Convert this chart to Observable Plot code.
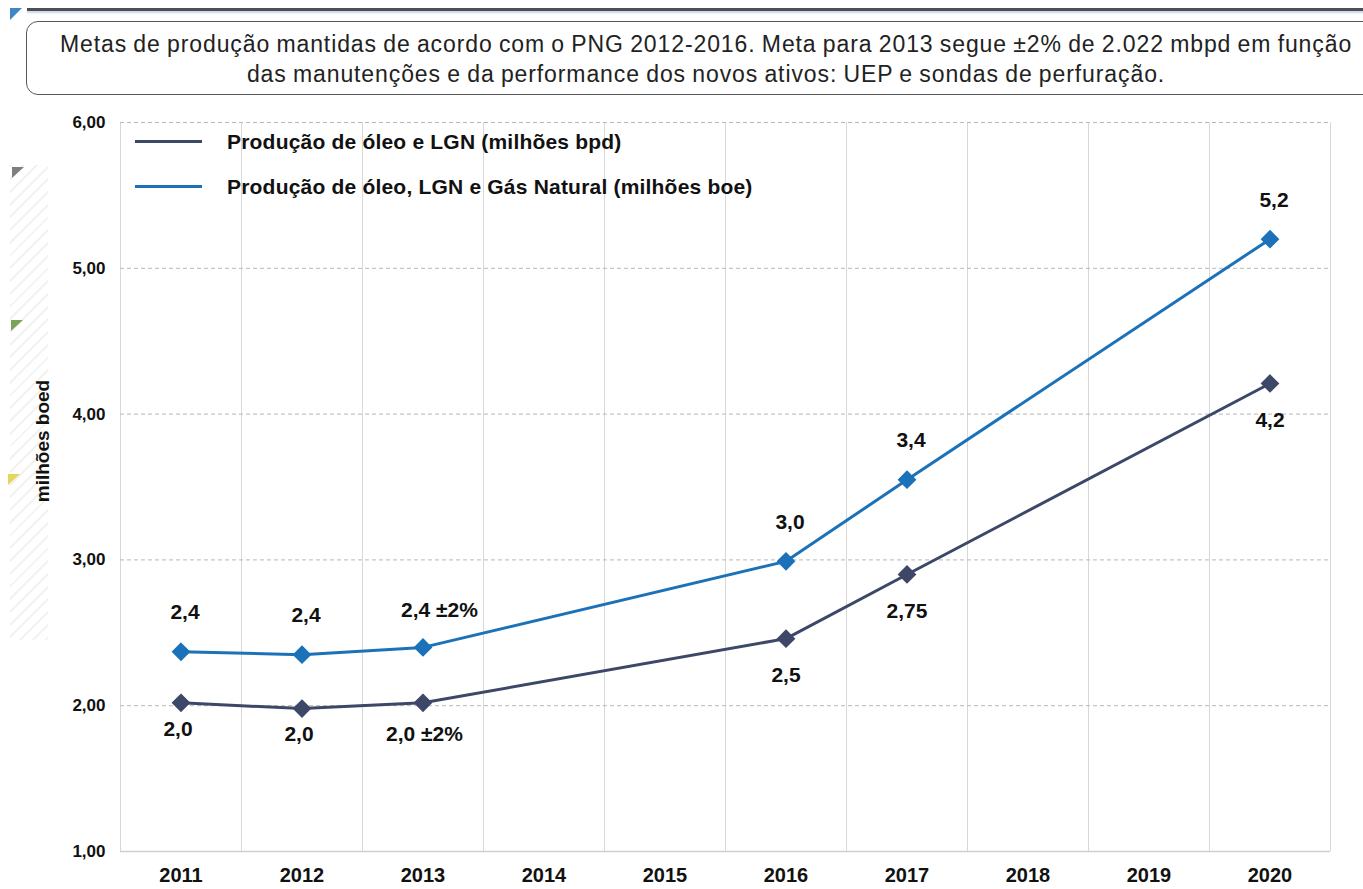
<!DOCTYPE html>
<html>
<head>
<meta charset="utf-8">
<script src="https://cdn.jsdelivr.net/npm/d3@7"></script>
<script src="https://cdn.jsdelivr.net/npm/@observablehq/plot@0.6"></script>
<style>
  html, body { margin: 0; padding: 0; background: #fff; }
  body { position: relative; width: 1363px; height: 889px; overflow: hidden; font-family: "Liberation Sans", Arial, sans-serif; }
  #header { position: relative; height: 105px; }
  #topline { position: absolute; left: 27px; top: 8px; width: 1340px; height: 3px; background: #4b4f55; box-shadow: 0 2px 2px #c9d6e2; }
  #tri-top { position: absolute; left: 10px; top: 8px; width: 0; height: 0; border-top: 12px solid #3f86c4; border-right: 12px solid transparent; }
  #box { position: absolute; left: 26px; top: 21px; width: 1360px; height: 74px; border: 1.5px solid #55595e; border-radius: 12px; box-sizing: border-box; text-align: center; font-size: 23px; line-height: 30px; color: #222; padding-top: 7px; letter-spacing: 0.9px; word-spacing: -1px; white-space: nowrap; }
  #chart svg text { font-weight: bold; fill: #111; }
  #legend { position: absolute; left: 135px; top: 128px; font-weight: bold; font-size: 21px; color: #111; letter-spacing: 0.2px; }
  .leg { position: relative; height: 45px; line-height: 28px; }
  .leg span.sw { position: absolute; left: 0; top: 12px; width: 67px; height: 3px; }
  .leg span.tx { position: absolute; left: 92px; top: 0; white-space: nowrap; }
  #ylabel { position: absolute; left: 43px; top: 441px; transform: translate(-50%, -50%) rotate(-90deg); font-weight: bold; font-size: 19px; white-space: nowrap; color: #111; }
  .deco { position: absolute; width: 0; height: 0; border-right: 12px solid transparent; }
  #hatch { position: absolute; left: 10px; top: 165px; width: 38px; height: 475px; background: repeating-linear-gradient(135deg, rgba(0,0,0,0.05) 0 2px, transparent 2px 9px); }
</style>
</head>
<body>
<div id="header">
  <div id="topline"></div>
  <div id="tri-top"></div>
  <div id="box">Metas de produção mantidas de acordo com o PNG 2012-2016. Meta para 2013 segue ±2% de 2.022 mbpd em função<br>das manutenções e da performance dos novos ativos: UEP e sondas de perfuração.</div>
</div>
<div id="hatch"></div>
<div class="deco" style="left:12px;top:167px;border-top:11px solid #7d7f83;"></div>
<div class="deco" style="left:11px;top:320px;border-top:11px solid #7da35a;"></div>
<div class="deco" style="left:8px;top:474px;border-top:11px solid #e6d75a;"></div>
<div id="chart"></div>
<div id="ylabel">milhões boed</div>
<div id="legend"></div>
<script>
// ---- data ----
const years = [2011, 2012, 2013, 2014, 2015, 2016, 2017, 2018, 2019, 2020];
const dataYears = [2011, 2012, 2013, 2016, 2017, 2020];
const oilLgn = [2.02, 1.98, 2.02, 2.46, 2.90, 4.21];
const oilLgnGas = [2.37, 2.35, 2.40, 2.99, 3.55, 5.20];
const oilLgnLabels = ["2,0", "2,0", "2,0 ±2%", "2,5", "2,75", "4,2"];
const oilLgnGasLabels = ["2,4", "2,4", "2,4 ±2%", "3,0", "3,4", "5,2"];
const yTicks = [1, 2, 3, 4, 5, 6];
const seriesNames = ["Produção de óleo e LGN (milhões bpd)", "Produção de óleo, LGN e Gás Natural (milhões boe)"];
const seriesColors = ["#3d4868", "#1b72b8"];

// ---- derived tables ----
const rowsA = dataYears.map((yr, i) => ({year: yr, value: oilLgn[i], label: oilLgnLabels[i], i}));
const rowsB = dataYears.map((yr, i) => ({year: yr, value: oilLgnGas[i], label: oilLgnGasLabels[i], i}));
const edges = years.map(y => y - 0.5).concat([years[years.length - 1] + 0.5]);

const chart = Plot.plot({
  width: 1363,
  height: 784,
  marginLeft: 120,
  marginRight: 33,
  marginTop: 17,
  marginBottom: 38,
  style: {fontFamily: "'Liberation Sans', Arial, sans-serif", background: "transparent", overflow: "visible"},
  x: {domain: [years[0] - 0.5, years[years.length - 1] + 0.5]},
  y: {domain: [1, 6]},
  marks: [
    Plot.ruleX(edges, {stroke: "#d8d8d8", strokeWidth: 1}),
    Plot.ruleY(yTicks, {stroke: "#b8b8b8", strokeWidth: 1, strokeDasharray: "4,3"}),
    Plot.ruleY([1], {stroke: "#d0d0d0", strokeWidth: 1.5}),
    Plot.axisX({ticks: years, tickFormat: d => String(d), tickSize: 0, tickPadding: 16, fontSize: 20, label: null}),
    Plot.axisY({ticks: yTicks, tickFormat: d => d.toFixed(2).replace(".", ","), tickSize: 0, tickPadding: 15, fontSize: 17, label: null}),
    Plot.line(rowsA, {x: "year", y: "value", stroke: seriesColors[0], strokeWidth: 3}),
    Plot.line(rowsB, {x: "year", y: "value", stroke: seriesColors[1], strokeWidth: 3}),
    Plot.dot(rowsA, {x: "year", y: "value", symbol: "diamond2", r: 7.5, fill: seriesColors[0], stroke: seriesColors[0]}),
    Plot.dot(rowsB, {x: "year", y: "value", symbol: "diamond2", r: 7.5, fill: seriesColors[1], stroke: seriesColors[1]}),
    Plot.text(rowsB.filter(d => !d.label.includes("±")), {x: "year", y: "value", text: "label", dy: -39, dx: 4, fontSize: 21}),
    Plot.text(rowsB.filter(d => d.label.includes("±")), {x: "year", y: "value", text: "label", dy: -37, dx: -22, textAnchor: "start", fontSize: 21}),
    Plot.text(rowsA.filter(d => d.i < 3 && !d.label.includes("±")), {x: "year", y: "value", text: "label", dy: 26, dx: -3, fontSize: 21}),
    Plot.text(rowsA.filter(d => d.label.includes("±")), {x: "year", y: "value", text: "label", dy: 31, dx: -37, textAnchor: "start", fontSize: 21}),
    Plot.text(rowsA.filter(d => d.i >= 3), {x: "year", y: "value", text: "label", dy: 37, dx: 0, fontSize: 21})
  ]
});
document.getElementById("chart").appendChild(chart);

// legend
const legend = document.getElementById("legend");
seriesNames.forEach((name, i) => {
  const row = document.createElement("div");
  row.className = "leg";
  const sw = document.createElement("span");
  sw.className = "sw";
  sw.style.background = seriesColors[i];
  const tx = document.createElement("span");
  tx.className = "tx";
  tx.textContent = name;
  row.appendChild(sw);
  row.appendChild(tx);
  legend.appendChild(row);
});
</script>
</body>
</html>
